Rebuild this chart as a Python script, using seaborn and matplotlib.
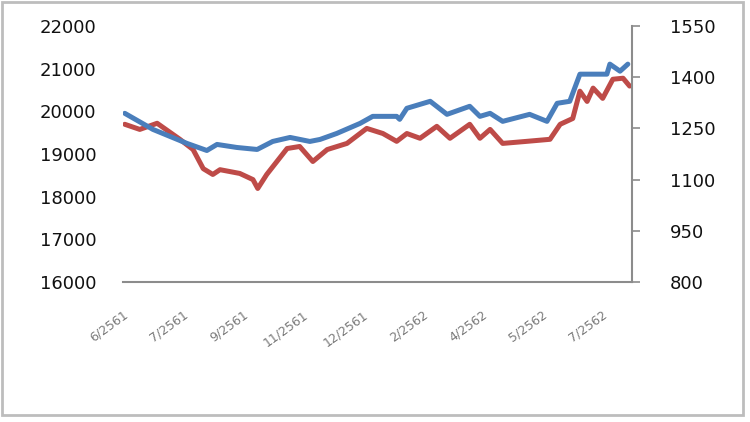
import matplotlib
matplotlib.use("Agg")
import matplotlib.pyplot as plt
import seaborn as sns
import pandas as pd
from matplotlib.patches import Rectangle

# ---- data (positions in tick-interval units) ----
blue_t = [0.03, 0.50, 1.07, 1.40, 1.57, 1.90, 2.24, 2.50, 2.79, 3.12, 3.29, 3.57,
          3.96, 4.17, 4.57, 4.62, 4.74, 5.13, 5.41, 5.79, 5.96, 6.13, 6.34, 6.79,
          7.08, 7.25, 7.46, 7.63, 8.08, 8.13, 8.30, 8.43]
blue_v = [19953, 19576, 19247, 19082, 19224, 19153, 19106, 19294, 19388, 19294, 19341, 19482,
          19718, 19882, 19882, 19812, 20071, 20235, 19929, 20118, 19882, 19953, 19765, 19929,
          19765, 20188, 20235, 20871, 20871, 21106, 20941, 21106]

red_t = [0.03, 0.28, 0.57, 0.95, 1.17, 1.34, 1.50, 1.62, 1.95, 2.17, 2.25, 2.40,
         2.57, 2.74, 2.95, 3.17, 3.41, 3.74, 4.07, 4.34, 4.57, 4.74, 4.96, 5.24,
         5.46, 5.79, 5.96, 6.13, 6.34, 6.74, 7.13, 7.30, 7.51, 7.63, 7.75, 7.85,
         8.01, 8.18, 8.35, 8.46]
red_v = [1262, 1247, 1265, 1218, 1188, 1132, 1115, 1129, 1118, 1100, 1074, 1115,
         1153, 1191, 1197, 1153, 1188, 1206, 1250, 1235, 1212, 1235, 1221, 1256,
         1221, 1262, 1221, 1247, 1206, 1212, 1218, 1262, 1279, 1359, 1329, 1368,
         1338, 1394, 1397, 1374]

x_labels = ["6/2561", "7/2561", "9/2561", "11/2561", "12/2561",
            "2/2562", "4/2562", "5/2562", "7/2562"]
left_ticks = [16000, 17000, 18000, 19000, 20000, 21000, 22000]
right_ticks = [800, 950, 1100, 1250, 1400, 1550]

blue_df = pd.DataFrame({"t": blue_t, "v": blue_v})
red_df = pd.DataFrame({"t": red_t, "v": red_v})

sns.set_style("white")
plt.rcParams['font.family'] = ['DejaVu Sans']

fig = plt.figure(figsize=(7.5, 4.22), dpi=100)
ax = fig.add_axes([0.164, 0.3318, 0.6787, 0.6066])
ax2 = ax.twinx()

sns.lineplot(data=blue_df, x="t", y="v", ax=ax, color="#4A7EBB", linewidth=3.6,
             estimator=None, sort=False, zorder=3)
sns.lineplot(data=red_df, x="t", y="v", ax=ax2, color="#BE4B48", linewidth=3.6,
             estimator=None, sort=False, zorder=2)
ax.set_zorder(ax2.get_zorder() + 1)
ax.patch.set_visible(False)

ax.set_xlim(0, 8.5)
ax.set_ylim(16000, 22000)
ax2.set_ylim(800, 1550)
ax.set_xlabel("")
ax.set_ylabel("")
ax2.set_ylabel("")

ax.set_yticks(left_ticks)
ax.set_yticklabels([str(v) for v in left_ticks], fontsize=13, color="#111111")
ax.tick_params(axis="y", length=0, pad=19)
ax2.set_yticks(right_ticks)
ax2.set_yticklabels([str(v) for v in right_ticks], fontsize=13, color="#111111")
ax2.tick_params(axis="y", length=6, width=1.2, color="#8C8C8C", pad=21, direction="out")

ax.set_xticks(list(range(len(x_labels))))
ax.set_xticklabels(x_labels, rotation=36, ha="right", rotation_mode="anchor",
                   fontsize=9, color="#7A7A7A")
ax.tick_params(axis="x", length=0, pad=19)
ax2.tick_params(axis="x", length=0)

for a in (ax, ax2):
    for s in a.spines.values():
        s.set_visible(False)
ax2.spines["right"].set_visible(True)
ax2.spines["right"].set_color("#8C8C8C")
ax2.spines["right"].set_linewidth(1.5)
ax.spines["bottom"].set_visible(True)
ax.spines["bottom"].set_color("#8C8C8C")
ax.spines["bottom"].set_linewidth(1.5)
ax.grid(False)
ax2.grid(False)

# outer chart border
fig.patches.append(Rectangle((1.5 / 750, 1 - 415 / 422), 741 / 750, 413 / 422,
                             transform=fig.transFigure, fill=False,
                             edgecolor="#BDBDBD", linewidth=2))

fig.savefig("out.png", dpi=100)
